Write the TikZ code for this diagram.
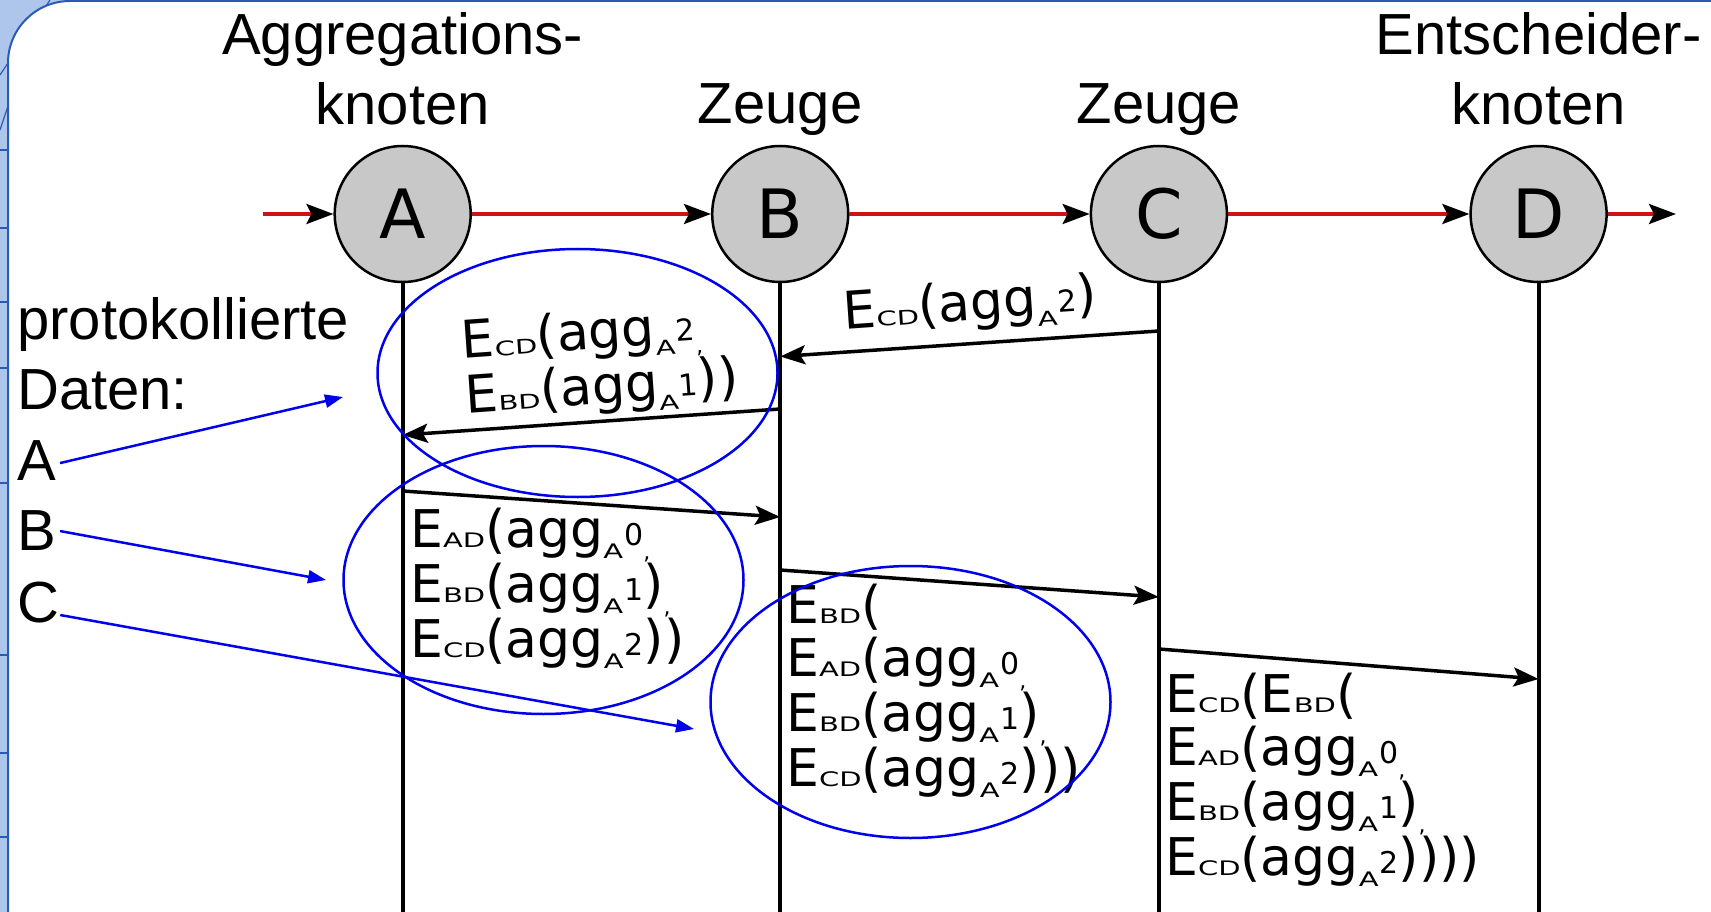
\documentclass[tikz,border=0pt]{standalone}
\usepackage{fontspec}
\setmainfont{Liberation Sans}
\newfontfamily\dvsans{DejaVu Sans}
\usepackage{graphicx}
\usetikzlibrary{arrows.meta}
\definecolor{flowred}{RGB}{204,20,20}
\definecolor{actorgray}{RGB}{200,200,200}
\definecolor{ringblue}{RGB}{0,0,238}
\definecolor{stripfill}{RGB}{174,198,236}
\definecolor{stripline}{RGB}{42,90,180}

% key E with a wide small-caps style index on the baseline
\newcommand\Ek[1]{E\scalebox{1.45}[1]{\fontsize{20}{20}\selectfont #1}}
% agg_A^n
\newcommand\aggk[1]{agg\raisebox{-11pt}{\scalebox{1.45}[1]{\fontsize{20}{20}\selectfont A}}\kern1pt\raisebox{2pt}{\fontsize{30}{30}\selectfont #1}}
\newcommand\lowcomma{\raisebox{-12pt}{\fontsize{22}{22}\selectfont ,}}

\begin{document}
\begin{tikzpicture}[x=1pt,y=-1pt,
  actor/.style={circle,draw=black,line width=2.5pt,fill=actorgray,minimum size=136pt,
    inner sep=0pt,font=\dvsans\fontsize{68}{68}\selectfont},
  head/.style={font=\fontsize{58}{70}\selectfont,align=center,inner sep=0pt},
  side/.style={font=\fontsize{58}{70}\selectfont,inner sep=0pt},
  flow/.style={draw=flowred,line width=3.5pt,-{Stealth[black,length=27pt,width=20pt,inset=5pt]}},
  life/.style={draw=black,line width=4pt},
  msg/.style={draw=black,line width=3.5pt,-{Stealth[length=25pt,width=19pt,inset=5pt]}},
  msgtext/.style={font=\dvsans\fontsize{52}{53}\selectfont,align=left,inner sep=0pt},
  ring/.style={draw=ringblue,line width=2.5pt},
  pointer/.style={draw=ringblue,line width=2.5pt,-{Triangle[length=18pt,width=13pt]}}
]
\useasboundingbox (0,0) rectangle (1711,912);

% slide frame
\fill[stripfill] (0,0) rectangle (1711,912);
\foreach \yy in {150,228,302,368,483,655,753,837}
  \draw[stripline,line width=1.2pt] (0,\yy) -- (8,\yy);
\draw[stripline,line width=1.2pt] (0,75) -- (50,0);
\draw[stripline,line width=1.2pt] (0,130) -- (30,40);
\filldraw[fill=white,draw=stripline,line width=2pt,rounded corners=62pt] (8,1) rectangle (1800,1000);

% participants
\node[actor] (A) at (402.7,214) {A};
\node[actor] (B) at (780.2,214) {B};
\node[actor] (C) at (1158.9,214) {C};
\node[actor] (D) at (1538.6,214) {D};

\node[head,anchor=south] (hA) at (402.7,125) {Aggregations-\\knoten};
\node[head,anchor=base]  (hB) at (780.2,124) {Zeuge};
\node[head,anchor=base]  (hC) at (1158.9,124) {Zeuge};
\node[head,anchor=south] (hD) at (1538.6,125) {Entscheider-\\knoten};

% lifelines
\coordinate (Aend) at (A |- 0,915);
\coordinate (Bend) at (B |- 0,915);
\coordinate (Cend) at (C |- 0,915);
\coordinate (Dend) at (D |- 0,915);
\draw[life] (A) -- (Aend);
\draw[life] (B) -- (Bend);
\draw[life] (C) -- (Cend);
\draw[life] (D) -- (Dend);

% route
\coordinate (in) at (263,214);
\coordinate (out) at (1676,214);
\draw[flow] (in) -- (A);
\draw[flow] (A) -- (B);
\draw[flow] (B) -- (C);
\draw[flow] (C) -- (D);
\draw[flow] (D) -- (out);

% messages
\coordinate (m1s) at (C |- 0,331);   \coordinate (m1e) at (B |- 0,356.5);
\coordinate (m2s) at (B |- 0,409);   \coordinate (m2e) at (A |- 0,435);
\coordinate (m3s) at (A |- 0,491);   \coordinate (m3e) at (B |- 0,517);
\coordinate (m4s) at (B |- 0,570);   \coordinate (m4e) at (C |- 0,597);
\coordinate (m5s) at (C |- 0,649);   \coordinate (m5e) at (D |- 0,679);
\draw[msg] (m1s) -- (m1e);
\draw[msg] (m2s) -- (m2e);
\draw[msg] (m3s) -- (m3e);
\draw[msg] (m4s) -- (m4e);
\draw[msg] (m5s) -- (m5e);

\node[msgtext,rotate=4] (t1) at (970,306) {\Ek{CD}(\aggk{2})};
\node[msgtext,rotate=4] (t2) at (600,362) {\Ek{CD}(\aggk{2}\lowcomma\\\Ek{BD}(\aggk{1}))};
\node[msgtext,anchor=north west] (t3) at (410,507.5)
  {\Ek{AD}(\aggk{0}\lowcomma\\\Ek{BD}(\aggk{1})\lowcomma\\\Ek{CD}(\aggk{2}))};
\node[msgtext,anchor=north west] (t4) at (786,583.5)
  {\Ek{BD}(\\\Ek{AD}(\aggk{0}\lowcomma\\\Ek{BD}(\aggk{1})\lowcomma\\\Ek{CD}(\aggk{2})))};
\node[msgtext,anchor=north west] (t5) at (1165,672.5)
  {\Ek{CD}(\Ek{BD}(\\\Ek{AD}(\aggk{0}\lowcomma\\\Ek{BD}(\aggk{1})\lowcomma\\\Ek{CD}(\aggk{2}))))};

% logged data
\draw[ring] (577.5,373) ellipse [x radius=200pt, y radius=124pt];
\draw[ring] (543.5,580) ellipse [x radius=200pt, y radius=134pt];
\draw[ring] (910.5,702) ellipse [x radius=200pt, y radius=136pt];

\node[side,anchor=south west,align=left] (lt) at (17,410) {protokollierte\\Daten:};
\node[side,anchor=base west] (la) at (17,480) {A};
\node[side,anchor=base west] (lb) at (17,550) {B};
\node[side,anchor=base west] (lc) at (17,622) {C};

\coordinate (pa) at (343,397);
\coordinate (pb) at (326,580);
\coordinate (pc) at (694,729);
\draw[pointer] ([shift={(4,3)}]la.east) -- (pa);
\draw[pointer] ([shift={(4,1)}]lb.east) -- (pb);
\draw[pointer] ([shift={(1,13)}]lc.east) -- (pc);
\end{tikzpicture}
\end{document}
